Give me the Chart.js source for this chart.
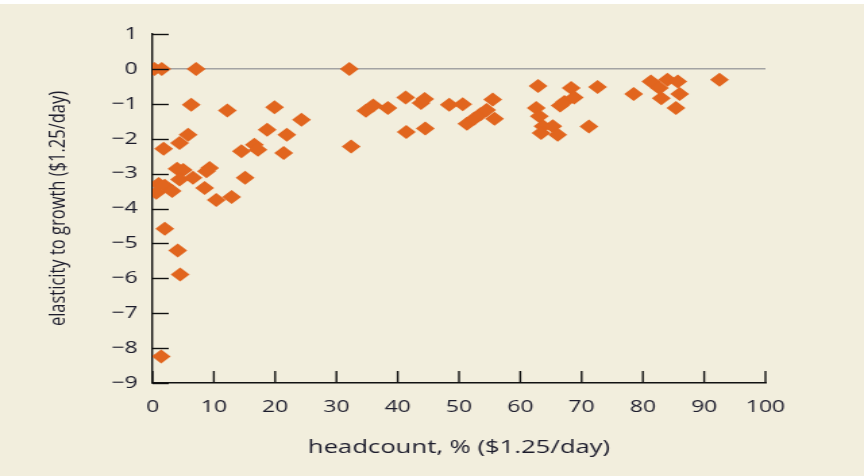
<!DOCTYPE html>
<html>
<head>
<meta charset="utf-8">
<script src="https://cdn.jsdelivr.net/npm/chart.js"></script>
<style>
  html, body { margin: 0; padding: 0; background: #f2eedd; overflow: hidden; }
  #strip { position: absolute; left: 0; top: 0; width: 864px; height: 4px; background: #fff; }
  /* the source figure is stretched sideways, so the whole chart is too */
  #wrap { position: absolute; left: 0; top: 0; width: 640px; height: 476px;
          transform: scaleX(1.35); transform-origin: 0 0; }
  #chart { display: block; }
</style>
</head>
<body>
<div id="strip"></div>
<div id="wrap"><canvas id="chart" width="640" height="476"></canvas></div>
<script>
  // headcount, % ($1.25/day)
  const headcount = [
    0.3, 1.5, 7.1, 6.3, 12.2, 19.9, 5.8, 4.4, 1.8, 18.7,
    14.5, 16.6, 17.2, 4.0, 5.0, 4.4, 6.6, 9.3, 8.8, 8.5,
    15.1, 10.4, 12.9, 1.0, 0.6, 2.0, 3.2, 2.0, 4.1, 4.5,
    1.4, 32.1, 24.3, 21.9, 21.4, 32.4, 34.8, 36.0, 38.4, 41.3,
    43.8, 44.4, 41.4, 44.5, 48.4, 50.6, 55.5, 55.8, 51.3, 52.5,
    53.5, 54.5, 62.9, 62.6, 63.1, 63.7, 63.4, 65.3, 66.1, 66.5,
    67.2, 68.3, 68.8, 72.6, 71.2, 78.5, 81.3, 82.7, 84.0, 85.7,
    83.0, 86.0, 85.4, 92.5
  ];
  // elasticity to growth ($1.25/day)
  const elasticity = [
    0, 0, 0, -1.03, -1.19, -1.1, -1.89, -2.12, -2.29, -1.74,
    -2.36, -2.17, -2.32, -2.86, -2.9, -3.17, -3.12, -2.84, -2.93, -3.41,
    -3.12, -3.76, -3.67, -3.3, -3.55, -3.35, -3.5, -4.58, -5.2, -5.89,
    -8.24, 0, -1.46, -1.89, -2.41, -2.22, -1.2, -1.05, -1.12, -0.82,
    -0.98, -0.86, -1.81, -1.71, -1.03, -1.01, -0.88, -1.43, -1.57, -1.42,
    -1.3, -1.18, -0.49, -1.12, -1.36, -1.64, -1.84, -1.64, -1.89, -1.05,
    -0.95, -0.55, -0.82, -0.52, -1.65, -0.72, -0.36, -0.55, -0.31, -0.36,
    -0.84, -0.72, -1.12, -0.31
  ];
  const xTicks = [0, 10, 20, 30, 40, 50, 60, 70, 80, 90, 100];
  const yTicks = [1, 0, -1, -2, -3, -4, -5, -6, -7, -8, -9];

  const textColor = '#1c1c2c';
  const orange = '#e1651e';

  // tick marks point into the plot
  const innerTicks = {
    id: 'innerTicks',
    afterDraw(chart) {
      const c = chart.ctx;
      const xs = chart.scales.x, ys = chart.scales.y;
      const left = chart.chartArea.left, bottom = chart.chartArea.bottom;
      c.save();
      c.strokeStyle = '#111111';
      c.lineWidth = 1.4;
      yTicks.forEach(v => {
        const py = Math.round(ys.getPixelForValue(v)) + 0.5;
        c.beginPath();
        c.moveTo(left, py);
        c.lineTo(left + 12, py);
        c.stroke();
      });
      xTicks.forEach(v => {
        const px = xs.getPixelForValue(v);
        c.beginPath();
        c.moveTo(px, bottom);
        c.lineTo(px, bottom - 12);
        c.stroke();
      });
      c.restore();
    }
  };

  new Chart(document.getElementById('chart'), {
    type: 'scatter',
    data: {
      datasets: [{
        data: headcount.map((x, i) => ({ x: x, y: elasticity[i] })),
        pointStyle: 'rectRot',
        pointRadius: 7,
        pointHoverRadius: 7,
        backgroundColor: orange,
        borderColor: orange,
        borderWidth: 0
      }]
    },
    options: {
      responsive: false,
      animation: false,
      devicePixelRatio: 1,
      layout: { padding: { top: 34, right: 73, left: 0, bottom: 0 } },
      plugins: {
        legend: { display: false },
        tooltip: { enabled: false }
      },
      scales: {
        x: {
          type: 'linear',
          min: 0,
          max: 100,
          afterBuildTicks: s => { s.ticks = xTicks.map(v => ({ value: v })); },
          afterFit: s => { s.height = 476 - 383; },
          grid: { display: false },
          border: { display: true, color: '#111111', width: 1.4 },
          ticks: {
            color: textColor,
            padding: 6,
            maxRotation: 0,
            font: { family: 'Open Sans', size: 17 }
          },
          title: {
            display: true,
            text: 'headcount, % ($1.25/day)',
            color: textColor,
            padding: { top: 0, bottom: 17 },
            font: { family: 'Open Sans', size: 19 }
          }
        },
        y: {
          type: 'linear',
          min: -9,
          max: 1,
          afterBuildTicks: s => { s.ticks = yTicks.map(v => ({ value: v })); },
          afterFit: s => { s.width = 113; },
          grid: {
            drawTicks: false,
            lineWidth: 1.4,
            color: c => (c.tick && c.tick.value === 0) ? '#a3a3a3' : 'rgba(0,0,0,0)'
          },
          border: { display: true, color: '#111111', width: 1.4 },
          ticks: {
            color: textColor,
            padding: 11,
            font: { family: 'Open Sans', size: 17 },
            callback: v => String(v).replace('-', '\u2212')
          },
          title: {
            display: true,
            text: 'elasticity to growth ($1.25/day)',
            color: textColor,
            padding: { top: 33, bottom: 0 },
            font: { family: 'Open Sans', size: 16.5 }
          }
        }
      }
    },
    plugins: [innerTicks]
  });
</script>
</body>
</html>
